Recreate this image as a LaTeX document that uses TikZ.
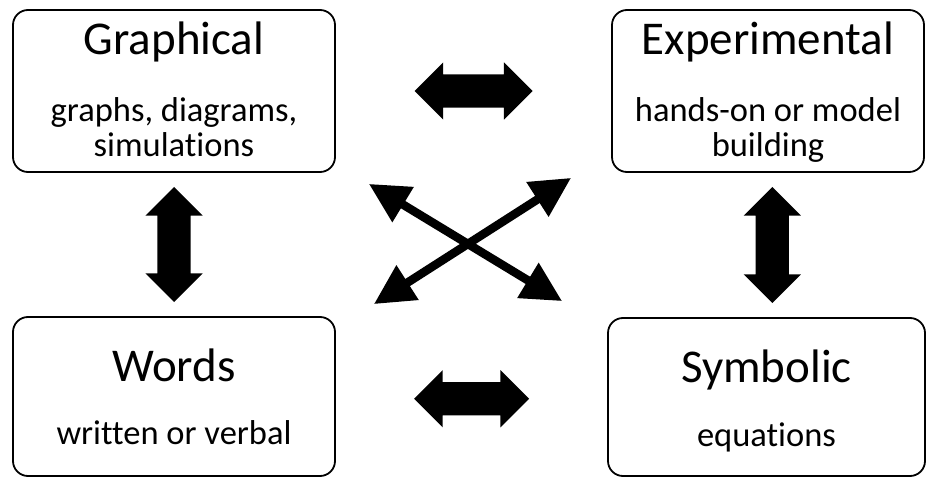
\documentclass[tikz,border=0pt]{standalone}
\usepackage{fontspec}
\setmainfont{Carlito}[Ligatures=NoCommon]
\usetikzlibrary{arrows.meta,shapes.arrows,calc}

\begin{document}
\begin{tikzpicture}[x=1pt,y=-1pt,
  card/.style={draw,line width=1.8pt,rounded corners=15pt,inner sep=0pt},
  ttl/.style={anchor=base,inner sep=0pt,font=\fontsize{47}{52}\selectfont},
  sub/.style={anchor=base,inner sep=0pt,align=center,font=\fontsize{34.5}{35}\selectfont},
  dblarrow/.style={shape=double arrow,fill=black,inner xsep=0pt,inner ysep=16.5pt,
    minimum width=57pt,double arrow head extend=12pt},
  crossarrow/.style={line width=8.5pt,{Triangle[length=40pt,width=39pt]}-{Triangle[length=40pt,width=39pt]}}]
\useasboundingbox (0,0) rectangle (926,478);
\node[card,minimum width=322pt,minimum height=162pt] (gra) at (174,91) {};
\node[card,minimum width=312pt,minimum height=162pt] (exp) at (768,91) {};
\node[card,minimum width=322pt,minimum height=159pt] (wor) at (174,396.5) {};
\node[card,minimum width=317pt,minimum height=158pt] (sym) at (766.5,397) {};
\node[ttl] (graT) at ([yshift=-45pt]gra.north) {Graphical};
\node[sub] (graS) at ([yshift=-147pt]gra.north) {graphs, diagrams,\\simulations};
\node[ttl] (expT) at ([yshift=-45pt]exp.north) {Experimental};
\node[sub] (expS) at ([yshift=-147pt]exp.north) {hands-on or model\\building};
\node[ttl] (worT) at ([yshift=-65pt]wor.north) {Words};
\node[sub] (worS) at ([yshift=-128pt]wor.north) {written or verbal};
\node[ttl] (symT) at ([yshift=-65pt]sym.north) {Symbolic};
\node[sub] (symS) at ([yshift=-129pt]sym.north) {equations};
% block arrows between the boxes
\node[dblarrow,minimum height=118pt] (a1) at ($(gra.east)!0.5!(exp.west)$) {};
\node[dblarrow,minimum height=115pt] (a2) at ([yshift=-2pt]$(wor.east)!0.5!(sym.west)$) {};
\node[dblarrow,minimum height=115pt,rotate=90] (a3) at ($(gra.south)!0.5!(wor.north)$) {};
\node[dblarrow,minimum height=116pt,rotate=90] (a4) at ([xshift=5pt]$(exp.south)!0.5!(sym.north)$) {};
% crossing arrows
\draw[crossarrow] ([shift={(33,11)}]gra.south east) -- ([shift={(-45,-16)}]sym.north west);
\draw[crossarrow] ([shift={(38,-12)}]wor.north east) -- ([shift={(-40,5)}]exp.south west);
\end{tikzpicture}
\end{document}
